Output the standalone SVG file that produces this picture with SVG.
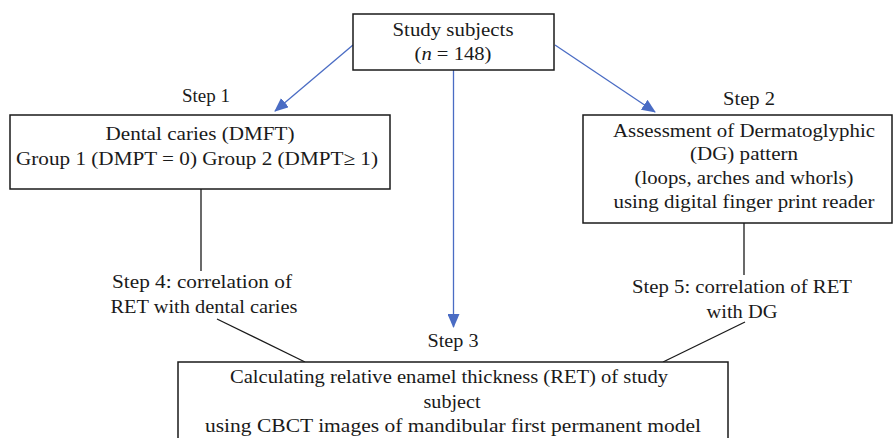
<svg xmlns="http://www.w3.org/2000/svg" width="893" height="438" viewBox="0 0 893 438">
<style>
  text { font-family: "Liberation Serif", "Times New Roman", serif; font-size: 19px; fill: #1a1a1a; text-anchor: middle; }
  .box { fill: #ffffff; stroke: #1a1a1a; stroke-width: 1.5; }
  .blue { stroke: #4a6cc4; stroke-width: 1.3; fill: none; }
  .blk { stroke: #1a1a1a; stroke-width: 1.3; fill: none; }
</style>
<defs>
  <marker id="ah" markerUnits="userSpaceOnUse" markerWidth="14" markerHeight="12" refX="13" refY="6" orient="auto">
    <path d="M0,0 L14,6 L0,12 Z" fill="#4a6cc4"/>
  </marker>
</defs>
<rect width="893" height="438" fill="#ffffff"/>
<g id="connectors">
  <line class="blue" x1="353" y1="45" x2="275" y2="111" marker-end="url(#ah)"/>
  <line class="blue" x1="555" y1="45" x2="655" y2="112" marker-end="url(#ah)"/>
  <line class="blue" x1="453.5" y1="70" x2="453.5" y2="327" marker-end="url(#ah)"/>
  <line class="blk" x1="201" y1="189" x2="201" y2="271"/>
  <line class="blk" x1="744" y1="223" x2="744" y2="275"/>
  <line class="blk" x1="217" y1="319" x2="305" y2="362"/>
  <line class="blk" x1="745" y1="322" x2="663" y2="362"/>
  <text x="206" y="102" textLength="48" lengthAdjust="spacingAndGlyphs">Step 1</text>
  <text x="749" y="105" textLength="52" lengthAdjust="spacingAndGlyphs">Step 2</text>
  <text x="453" y="347" textLength="51" lengthAdjust="spacingAndGlyphs">Step 3</text>
  <text x="202" y="288" textLength="180" lengthAdjust="spacingAndGlyphs">Step 4: correlation of</text>
  <text x="204" y="313" textLength="187" lengthAdjust="spacingAndGlyphs">RET with dental caries</text>
  <text x="742" y="293" textLength="220" lengthAdjust="spacingAndGlyphs">Step 5: correlation of RET</text>
  <text x="742" y="318" textLength="71" lengthAdjust="spacingAndGlyphs">with DG</text>
</g>
<g id="node-study">
  <rect class="box" x="353" y="14" width="201" height="56"/>
  <text x="453" y="36" textLength="121" lengthAdjust="spacingAndGlyphs">Study subjects</text>
  <text x="453" y="60" textLength="77" lengthAdjust="spacingAndGlyphs">(<tspan font-style="italic">n</tspan> = 148)</text>
</g>
<g id="node-caries">
  <rect class="box" x="10" y="115" width="380" height="74"/>
  <text x="200" y="140" textLength="189" lengthAdjust="spacingAndGlyphs">Dental caries (DMFT)</text>
  <text x="197" y="165" textLength="362" lengthAdjust="spacingAndGlyphs">Group 1 (DMPT = 0) Group 2 (DMPT≥ 1)</text>
</g>
<g id="node-dg">
  <rect class="box" x="583" y="115" width="309" height="108"/>
  <text x="744" y="137" textLength="262" lengthAdjust="spacingAndGlyphs">Assessment of Dermatoglyphic</text>
  <text x="744" y="160" textLength="108" lengthAdjust="spacingAndGlyphs">(DG) pattern</text>
  <text x="744" y="184" textLength="219" lengthAdjust="spacingAndGlyphs">(loops, arches and whorls)</text>
  <text x="744" y="208" textLength="261" lengthAdjust="spacingAndGlyphs">using digital finger print reader</text>
</g>
<g id="node-ret">
  <rect class="box" x="178" y="362" width="550" height="90"/>
  <text x="449" y="383" textLength="438" lengthAdjust="spacingAndGlyphs">Calculating relative enamel thickness (RET) of study</text>
  <text x="452" y="408" textLength="57" lengthAdjust="spacingAndGlyphs">subject</text>
  <text x="453" y="432" textLength="496" lengthAdjust="spacingAndGlyphs">using CBCT images of mandibular first permanent model</text>
</g>
</svg>
